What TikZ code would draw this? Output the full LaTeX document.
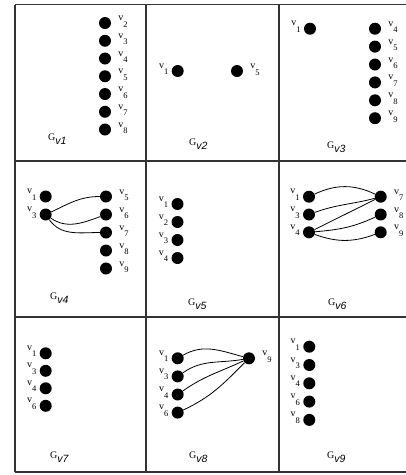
\documentclass[tikz,border=0pt]{standalone}
\usepackage{fontspec}
\setmainfont{Liberation Serif}
\setsansfont{Liberation Sans}

\tikzset{
  vtx/.style={circle, fill=black, draw=none, minimum size=12pt, inner sep=0pt},
  lbl/.style={inner sep=0pt, font=\fontsize{10}{10}\selectfont},
  captext/.style={inner sep=0pt, font=\fontsize{10}{10}\selectfont},
  edge/.style={line width=0.8pt, draw=black},
  gridline/.style={line width=1.4pt, draw=black!80}
}

% subscript digit of a vertex label
\newcommand\subidx[1]{\raisebox{-6.5pt}{\fontsize{8.5}{8.5}\selectfont #1}}
% vertex with its label on the right: name, x, y, index
\newcommand\vertR[4]{%
  \node[vtx] (#1) at (#2,#3) {};
  \node[lbl, anchor=base west] (#1-l) at ([xshift=7pt,yshift=2.5pt]#1.east) {v\subidx{#4}};}
% vertex with its label on the left: name, x, y, index
\newcommand\vertL[4]{%
  \node[vtx] (#1) at (#2,#3) {};
  \node[lbl, anchor=base east] (#1-l) at ([xshift=-3pt,yshift=3pt]#1.west) {v\subidx{#4}};}
% caption of a cell: name, x, y, subscript
\newcommand\capt[4]{%
  \node[captext, anchor=base west] (#1) at (#2,#3)
    {G\raisebox{-4pt}{\fontsize{10.5}{10.5}\sffamily\itshape\selectfont #4}};}

\begin{document}
\begin{tikzpicture}[x=1pt, y=-1pt]
\useasboundingbox (0,0) rectangle (406,475);

% table rules
\foreach \yy in {4.5,161,317,472} \draw[gridline] (15,\yy) -- (407,\yy);
\foreach \xx in {15,146,279} \draw[gridline] (\xx,4.5) -- (\xx,472);

% G_v1
\vertR{a2}{105}{23}{2}
\vertR{a3}{105}{40.75}{3}
\vertR{a4}{105}{58.5}{4}
\vertR{a5}{105}{76.25}{5}
\vertR{a6}{105}{94}{6}
\vertR{a7}{105}{111.75}{7}
\vertR{a8}{105}{129.5}{8}
\capt{ga}{48}{140}{v1}

% G_v2
\vertL{b1}{177.7}{71}{1}
\vertR{b5}{237}{71}{5}
\capt{gb}{189}{145}{v2}

% G_v3
\vertL{c1}{310}{28.7}{1}
\vertR{c4}{375}{28.7}{4}
\vertR{c5}{375}{46.6}{5}
\vertR{c6}{375}{64.5}{6}
\vertR{c7}{375}{82.4}{7}
\vertR{c8}{375}{100.3}{8}
\vertR{c9}{375}{118.2}{9}
\capt{gc}{327}{148}{v3}

% G_v4
\vertL{d1}{45.7}{196.5}{1}
\vertL{d3}{45.7}{214.5}{3}
\vertR{d5}{106}{196.5}{5}
\vertR{d6}{106}{214.5}{6}
\vertR{d7}{106}{232.5}{7}
\vertR{d8}{106}{250.5}{8}
\vertR{d9}{106}{268.5}{9}
\draw[edge] (d3) to[out=25, in=180] (d5);
\draw[edge] (d3) to[out=-35, in=200] (d6);
\draw[edge] (d3) to[out=-55, in=180] (d7);
\capt{gd}{50}{299}{v4}

% G_v5
\vertL{e1}{177.5}{204}{1}
\vertL{e2}{177.5}{222}{2}
\vertL{e3}{177.5}{240}{3}
\vertL{e4}{177.5}{258}{4}
\capt{ge}{188}{305}{v5}

% G_v6
\vertL{f1}{309}{196.7}{1}
\vertL{f3}{309}{214.5}{3}
\vertL{f4}{309}{232.3}{4}
\vertR{f7}{380.7}{196.7}{7}
\vertR{f8}{380.7}{214.5}{8}
\vertR{f9}{380.7}{232.3}{9}
\draw[edge] (f1) to[out=25, in=155] (f7);
\draw[edge] (f3) to[out=20, in=195] (f7);
\draw[edge] (f4) -- (f7);
\draw[edge] (f4) to[out=5, in=205] (f8);
\draw[edge] (f4) to[out=-20, in=200] (f9);
\capt{gf}{328}{305}{v6}

% G_v7
\vertL{g1}{45.7}{353.3}{1}
\vertL{g3}{45.7}{370.8}{3}
\vertL{g4}{45.7}{388.3}{4}
\vertL{g6}{45.7}{405.8}{6}
\capt{gg}{50}{458}{v7}

% G_v8
\vertL{h1}{177.7}{358.3}{1}
\vertL{h3}{177.7}{376.4}{3}
\vertL{h4}{177.7}{394.5}{4}
\vertL{h6}{177.7}{412.6}{6}
\vertR{h9}{249}{358.3}{9}
\draw[edge] (h1) to[out=30, in=165] (h9);
\draw[edge] (h3) to[out=35, in=190] (h9);
\draw[edge] (h4) to[out=35, in=205] (h9);
\draw[edge] (h6) to[out=25, in=225] (h9);
\capt{gh}{189}{458}{v8}

% G_v9
\vertL{i1}{309.3}{346.7}{1}
\vertL{i3}{309.3}{365}{3}
\vertL{i4}{309.3}{383.3}{4}
\vertL{i6}{309.3}{401.6}{6}
\vertL{i8}{309.3}{419.9}{8}
\capt{gi}{327}{458}{v9}
\end{tikzpicture}
\end{document}
